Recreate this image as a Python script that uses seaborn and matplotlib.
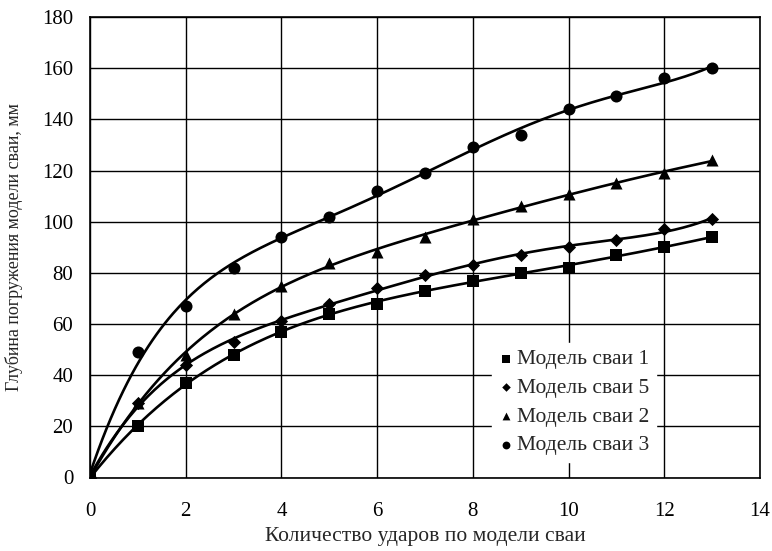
import numpy as np
import pandas as pd
import matplotlib
matplotlib.use("Agg")
import matplotlib.pyplot as plt
import seaborn as sns

sns.set_style("white")
plt.rcParams["font.family"] = ["Liberation Serif", "DejaVu Serif"]

# Number of blows
blows = [0, 1, 2, 3, 4, 5, 6, 7, 8, 9, 10, 11, 12, 13]

# Penetration depth of each pile model, mm
pile_1 = [0, 20, 37, 48, 57, 64, 68, 73, 77, 80, 82, 87, 90, 94]
pile_5 = [0, 29, 44, 53, 61, 68, 74, 79, 83, 87, 90, 93, 97, 101]
pile_2 = [0, 29, 48, 64, 75, 84, 88, 94, 101, 106, 111, 115, 119, 124]
pile_3 = [0, 49, 67, 82, 94, 102, 112, 119, 129, 134, 144, 149, 156, 160]

labels = ["Модель сваи 1", "Модель сваи 5", "Модель сваи 2", "Модель сваи 3"]
series = [pile_1, pile_5, pile_2, pile_3]
markers = ["s", "D", "^", "o"]
sizes = [65, 45, 75, 75]

df = pd.concat(
    [pd.DataFrame({"x": blows, "y": s, "model": lab}) for s, lab in zip(series, labels)],
    ignore_index=True,
)

fig = plt.figure(figsize=(7.72, 5.51), dpi=100)
ax = fig.add_axes([90 / 772, 1 - 477.5 / 551, 670 / 772, 460.5 / 551])

# Polynomial trend curves for each series
xs = np.linspace(0, 13, 300)
for s in series:
    coef = np.polyfit(np.array(blows, float), np.array(s, float), 5)
    ys = np.polyval(coef, xs)
    sns.lineplot(x=xs, y=ys, ax=ax, color="black", linewidth=1.9, legend=False, zorder=3)

for lab, m, sz in zip(labels, markers, sizes):
    sub = df[df["model"] == lab]
    sns.scatterplot(data=sub, x="x", y="y", marker=m, s=sz, color="black",
                    edgecolor="black", linewidth=0, ax=ax, label=lab, zorder=4)

ax.set_xlim(0, 14)
ax.set_ylim(0, 180)
ax.set_xticks(range(0, 15, 2))
ax.set_yticks(range(0, 181, 20))
ax.grid(True, color="black", linewidth=1.0)
ax.set_axisbelow(True)
for sp in ax.spines.values():
    sp.set_color("black")
    sp.set_linewidth(1.2)
ax.tick_params(axis="both", direction="out", length=5, width=1, color="black",
               labelsize=15, labelcolor="black")
ax.tick_params(axis="y", pad=7)
ax.tick_params(axis="x", pad=13)
ax.set_xlabel("Количество ударов по модели сваи", fontsize=15.5, labelpad=4)
ax.set_ylabel("Глубина погружения модели сваи, мм", fontsize=13, labelpad=14)

leg = ax.legend(loc="lower right", bbox_to_anchor=(0.845, 0.034), frameon=True,
                fontsize=15.5, handletextpad=0.2, labelspacing=0.4,
                borderpad=0.3, handlelength=0.7, borderaxespad=0,
                markerscale=0.65)
leg.get_frame().set_edgecolor("white")
leg.get_frame().set_facecolor("white")
leg.get_frame().set_alpha(1)
leg.get_frame().set_boxstyle("square", pad=0)

fig.savefig("out.png", dpi=100)
